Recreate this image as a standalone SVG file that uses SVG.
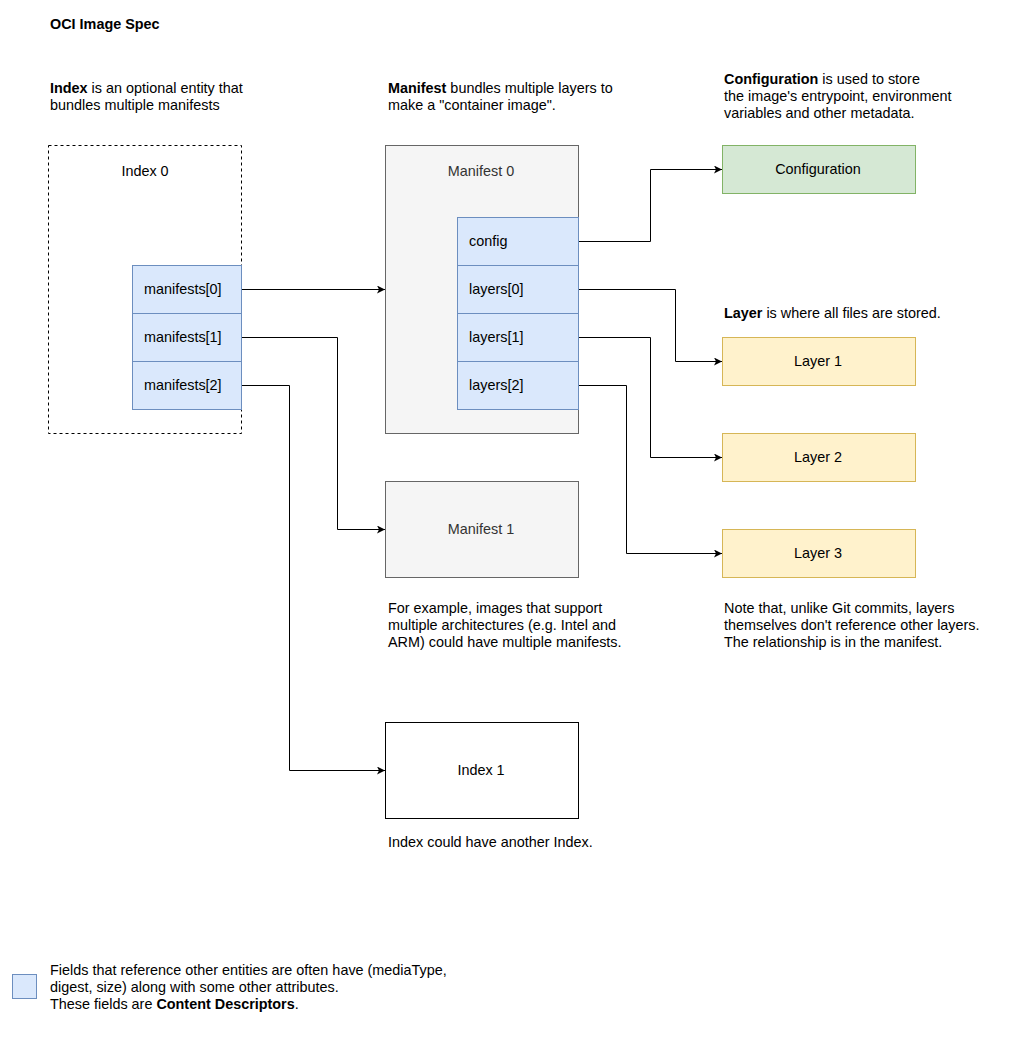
<svg xmlns="http://www.w3.org/2000/svg" width="1024" height="1060" viewBox="0 0 1024 1060">
<defs>
<style>
text{font-family:"Liberation Sans",Arial,Helvetica,sans-serif;font-size:14.4px;fill:#000}
.b{font-weight:bold}
.c{text-anchor:middle}
.g{fill:#333}
.cd{fill:#dae8fc;stroke:#6c8ebf;stroke-width:1}
.mf{fill:#f5f5f5;stroke:#666;stroke-width:1}
.ly{fill:#fff2cc;stroke:#d6b656;stroke-width:1}
.cf{fill:#d5e8d4;stroke:#82b366;stroke-width:1}
.e{fill:none;stroke:#000;stroke-width:1;marker-end:url(#a)}
</style>
<marker id="a" markerWidth="10" markerHeight="10" refX="8" refY="4" orient="auto" markerUnits="userSpaceOnUse">
<path d="M0,0 L8,4 L0,8 L2,4 Z" fill="#000"/>
</marker>
</defs>
<rect width="1024" height="1060" fill="#fff"/>
<text x="50" y="29" class="b">OCI Image Spec</text>
<g id="index-desc"><text x="50" y="93"><tspan class="b">Index</tspan> is an optional entity that</text><text x="50" y="110">bundles multiple manifests</text></g>
<g id="manifest-desc"><text x="388" y="93"><tspan class="b">Manifest</tspan> bundles multiple layers to</text><text x="388" y="110">make a "container image".</text></g>
<g id="config-desc"><text x="724" y="84"><tspan class="b">Configuration</tspan> is used to store</text><text x="724" y="101">the image's entrypoint, environment</text><text x="724" y="118">variables and other metadata.</text></g>
<g id="layer-desc"><text x="724" y="318"><tspan class="b">Layer</tspan> is where all files are stored.</text></g>
<g id="example-desc"><text x="388" y="613">For example, images that support</text><text x="388" y="630">multiple architectures (e.g. Intel and</text><text x="388" y="647">ARM) could have multiple manifests.</text></g>
<g id="note-desc"><text x="724" y="613">Note that, unlike Git commits, layers</text><text x="724" y="630">themselves don't reference other layers.</text><text x="724" y="647">The relationship is in the manifest.</text></g>
<g id="index1-desc"><text x="388" y="847">Index could have another Index.</text></g>

<g id="index0">
<rect x="48.5" y="145.5" width="193" height="288" fill="#fff" stroke="#000" stroke-dasharray="3 3"/>
<text x="145" y="176" class="c">Index 0</text>
</g>
<g id="manifests0"><rect x="132.5" y="265.5" width="109" height="48" class="cd"/><text x="144" y="294">manifests[0]</text></g>
<g id="manifests1"><rect x="132.5" y="313.5" width="109" height="48" class="cd"/><text x="144" y="342">manifests[1]</text></g>
<g id="manifests2"><rect x="132.5" y="361.5" width="109" height="48" class="cd"/><text x="144" y="390">manifests[2]</text></g>

<g id="manifest0"><rect x="385.5" y="145.5" width="193" height="288" class="mf"/><text x="481" y="176" class="c g">Manifest 0</text></g>
<g id="config"><rect x="457.5" y="217.5" width="121" height="48" class="cd"/><text x="469" y="246">config</text></g>
<g id="layers0"><rect x="457.5" y="265.5" width="121" height="48" class="cd"/><text x="469" y="294">layers[0]</text></g>
<g id="layers1"><rect x="457.5" y="313.5" width="121" height="48" class="cd"/><text x="469" y="342">layers[1]</text></g>
<g id="layers2"><rect x="457.5" y="361.5" width="121" height="48" class="cd"/><text x="469" y="390">layers[2]</text></g>

<g id="manifest1"><rect x="385.5" y="481.5" width="193" height="96" class="mf"/><text x="481" y="534" class="c g">Manifest 1</text></g>
<g id="index1"><rect x="385.5" y="722.5" width="193" height="96" fill="#fff" stroke="#000"/><text x="481" y="775" class="c">Index 1</text></g>

<g id="configuration"><rect x="722.5" y="145.5" width="193" height="48" class="cf"/><text x="818" y="174" class="c">Configuration</text></g>
<g id="layer1"><rect x="722.5" y="337.5" width="193" height="48" class="ly"/><text x="818" y="366" class="c">Layer 1</text></g>
<g id="layer2"><rect x="722.5" y="433.5" width="193" height="48" class="ly"/><text x="818" y="462" class="c">Layer 2</text></g>
<g id="layer3"><rect x="722.5" y="529.5" width="193" height="48" class="ly"/><text x="818" y="558" class="c">Layer 3</text></g>

<g id="connectors">
<path class="e" d="M242,289.5 H385"/>
<path class="e" d="M242,337.5 H337.5 V529.5 H385"/>
<path class="e" d="M242,385.5 H289.5 V770.5 H385"/>
<path class="e" d="M579,241.5 H650.5 V169.5 H722"/>
<path class="e" d="M579,289.5 H675.5 V361.5 H722"/>
<path class="e" d="M579,337.5 H650.5 V457.5 H722"/>
<path class="e" d="M579,385.5 H626.5 V553.5 H722"/>
</g>

<g id="legend">
<rect x="12.5" y="974.5" width="24" height="24" class="cd"/>
<text x="50" y="975">Fields that reference other entities are often have (mediaType,</text>
<text x="50" y="992">digest, size) along with some other attributes.</text>
<text x="50" y="1009">These fields are <tspan class="b">Content Descriptors</tspan>.</text>
</g>
</svg>
